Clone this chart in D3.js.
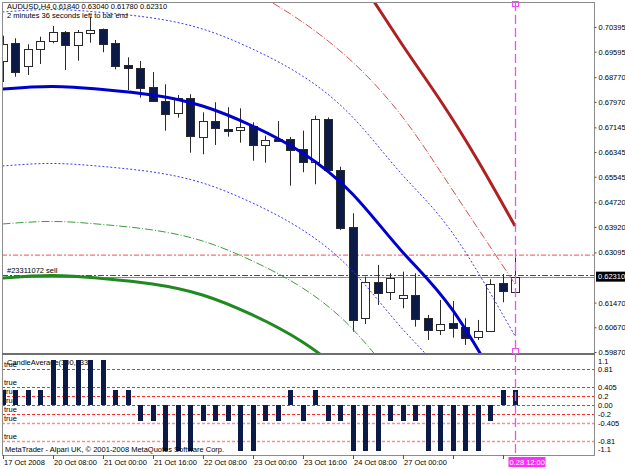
<!DOCTYPE html>
<html>
<head>
<meta charset="utf-8">
<script src="https://cdn.jsdelivr.net/npm/d3@7"></script>
<style>
body { margin: 0; background: #fff; }
text { font-family: "Liberation Sans", Arial, sans-serif; font-size: 7.5px; fill: #000; }
</style>
</head>
<body>
<div id="chart"></div>
<script>
// AUDUSD H4 candles (index 0 = 17 Oct 2008)
const opens  = [0.69271,0.69867,0.69142,0.69673,0.69919,0.70243,0.69812,0.70210,0.70330,0.69887,
                0.69165,0.69077,0.68442,0.67999,0.67620,0.68106,0.66843,0.67361,0.67092,0.67037,
                0.67189,0.66574,0.66768,0.66768,0.66445,0.66033,0.67406,0.65765,0.63929,0.60963,
                0.62148,0.61805,0.61610,0.61717,0.60963,0.60584,0.60820,0.60691,0.60347,0.60551,
                0.62096,0.61840]
const highs  = [0.70113,0.70029,0.69835,0.70081,0.70427,0.70265,0.70298,0.70719,0.70346,0.69974,
                0.69414,0.69294,0.68938,0.68540,0.68193,0.68216,0.67633,0.67957,0.67795,0.67762,
                0.67309,0.66875,0.67351,0.66833,0.67037,0.67523,0.67465,0.65872,0.64363,0.62310,
                0.62689,0.62420,0.62472,0.62420,0.61070,0.61555,0.61523,0.60963,0.60908,0.62226,
                0.62397,0.63040]
const lows   = [0.68614,0.68786,0.68841,0.69197,0.69867,0.69003,0.69304,0.69887,0.69576,0.69025,
                0.68355,0.68106,0.67966,0.67037,0.67458,0.66325,0.66273,0.66574,0.66843,0.66649,
                0.66066,0.66001,0.66688,0.65256,0.65690,0.65302,0.65733,0.63822,0.60529,0.60778,
                0.61393,0.61555,0.61286,0.60691,0.60260,0.60422,0.60335,0.60098,0.60260,0.60529,
                0.61481,0.61780]
const closes = [0.69835,0.68928,0.69683,0.69942,0.70223,0.69835,0.70223,0.70308,0.69835,0.69132,
                0.69077,0.68430,0.67989,0.67578,0.68106,0.66875,0.67351,0.67134,0.67027,0.67147,
                0.66574,0.66736,0.66704,0.66412,0.66033,0.67416,0.65765,0.63877,0.60908,0.62128,
                0.61805,0.62258,0.61717,0.60940,0.60584,0.60778,0.60658,0.60347,0.60551,0.62073,
                0.61847,0.62310]

// CandleAverage histogram
const avgValues = [0.34,0.34,0.34,0.34,1,1,1,1,1,0.34,
                   0.34,-0.36,-0.36,-1.04,-1.04,-1.04,-0.36,-0.36,-0.36,-1.04,
                   -1.04,-0.36,-0.36,0.34,-0.36,0.34,-0.36,-0.36,-1.04,-1.04,
                   -1.04,-0.36,-0.36,-0.36,-1.04,-1.04,-1.04,-1.04,-1.04,-0.36,
                   0.34,0.34]

// regression channel lines, each sampled at its own bar indexes
const curveIdx    = [0, 4, 8, 12, 16, 20, 24, 28, 32, 36, 41]
const regMid      = [0.68387,0.68468,0.68371,0.68193,0.67837,0.67189,0.66315,0.64988,0.63109,0.61231,0.57896]
const regUpper1   = [0.70880,0.70961,0.70864,0.70686,0.70330,0.69682,0.68808,0.67481,0.65602,0.63724,0.60389]
const regLower1   = [0.65894,0.65975,0.65878,0.65700,0.65344,0.64696,0.63822,0.62495,0.60616,0.58738,0.55403]
const regLower2   = [0.64016,0.64097,0.64000,0.63822,0.63466,0.62818,0.61944,0.60617,0.58738,0.56860,0.53525]
const regLower3   = [0.62267,0.62348,0.62251,0.62073,0.61717,0.61069,0.60195,0.58868,0.56989,0.55111,0.51776]
const upper2Idx   = [16, 20, 24, 28, 32, 36, 41]
const regUpper2   = [0.72241,0.71528,0.70557,0.69262,0.67481,0.65117,0.62073]
const upper3Idx   = [26, 29, 32, 35, 38, 41]
const regUpper3   = [0.73374,0.71658,0.69812,0.68031,0.66088,0.63951]

const priceTicks = [0.70395,0.69595,0.68770,0.67970,0.67145,0.66345,0.65545,0.64720,0.63920,0.63095,0.61470,0.60670,0.59870]
const subLevels  = [0.81, 0.405, 0.2, 0, -0.2, -0.405, -0.81]
const subTicks   = [1.1, 0.81, 0.405, 0.2, 0, -0.2, -0.405, -0.81, -1.1]
const subTickLabels = ["1.1","0.81","0.405","0.2","0.00","-0.2","-0.405","-0.81","-1.1"]
const timeIdx    = [0, 4, 8, 12, 16, 20, 24, 28, 32, 36, 40]
const timeLabels = ["17 Oct 2008","20 Oct 08:00","21 Oct 00:00","21 Oct 16:00","22 Oct 08:00",
                    "23 Oct 00:00","23 Oct 16:00","24 Oct 08:00","27 Oct 00:00","",""]

const bidPrice = 0.62310
const orderPrice = 0.62335
const stopPrice = 0.63010

const W = 625, H = 469
const MAIN = { LEFT: 2, RIGHT: 594, TOP: 2, BOTTOM: 353 }
const SUB = { TOP: 356, BOTTOM: 455 }

const svg = d3.select("#chart").append("svg")
    .attr("width", W)
    .attr("height", H)

const x = d3.scaleLinear().domain([0, 41]).range([2.5, 515])
const y = d3.scaleLinear().domain([0.59870, 0.70395]).range([352, 27])
const y2 = d3.scaleLinear().domain([-1.1, 1.1]).range([454, 356])

const defs = svg.append("defs")
defs.append("clipPath").attr("id", "clipMain").append("rect")
    .attr("x", MAIN.LEFT + 1).attr("y", MAIN.TOP + 1)
    .attr("width", MAIN.RIGHT - MAIN.LEFT - 1).attr("height", MAIN.BOTTOM - MAIN.TOP - 1)
defs.append("clipPath").attr("id", "clipSub").append("rect")
    .attr("x", MAIN.LEFT + 1).attr("y", SUB.TOP)
    .attr("width", MAIN.RIGHT - MAIN.LEFT - 1).attr("height", SUB.BOTTOM - SUB.TOP)

const main = svg.append("g").attr("clip-path", "url(#clipMain)")
const sub = svg.append("g").attr("clip-path", "url(#clipSub)")

// horizontal order lines
main.append("line")
    .attr("x1", MAIN.LEFT).attr("x2", MAIN.RIGHT)
    .attr("y1", y(stopPrice)).attr("y2", y(stopPrice))
    .attr("stroke", "#ff7070").attr("stroke-width", 1.2)
    .attr("stroke-dasharray", "5,2,2,2")
main.append("line")
    .attr("x1", MAIN.LEFT).attr("x2", MAIN.RIGHT)
    .attr("y1", Math.round(y(bidPrice)) + 0.5).attr("y2", Math.round(y(bidPrice)) + 0.5)
    .attr("stroke", "#8a8a8a").attr("stroke-width", 1)
main.append("line")
    .attr("x1", MAIN.LEFT).attr("x2", MAIN.RIGHT)
    .attr("y1", Math.round(y(orderPrice)) - 0.5).attr("y2", Math.round(y(orderPrice)) - 0.5)
    .attr("stroke", "#1f6f1f").attr("stroke-width", 1.2)
    .attr("stroke-dasharray", "6,2,2,2")

// candles
const bars = d3.range(opens.length).map(i => ({
    i, o: opens[i], h: highs[i], l: lows[i], c: closes[i]
}))
const cx = d => Math.round(x(d.i))

main.selectAll(".wick")
    .data(bars)
    .enter().append("line")
    .attr("x1", d => cx(d) + 0.5).attr("x2", d => cx(d) + 0.5)
    .attr("y1", d => y(d.h)).attr("y2", d => y(d.l))
    .attr("stroke", "#2a2a2a").attr("stroke-width", 1)

main.selectAll(".body")
    .data(bars)
    .enter().append("rect")
    .attr("x", d => cx(d) - 3.5)
    .attr("width", 8)
    .attr("y", d => Math.round(y(Math.max(d.o, d.c))) + 0.5)
    .attr("height", d => Math.max(1, Math.round(Math.abs(y(d.o) - y(d.c)))))
    .attr("fill", d => d.c >= d.o ? "#ffffff" : "#0b1a46")
    .attr("stroke", "#2a2a2a").attr("stroke-width", 1)

// regression channel lines
const lineFor = idx => d3.line()
    .x((d, k) => x(idx[k]))
    .y(d => y(d))
    .curve(d3.curveNatural)

const channel = [
    { idx: curveIdx,  values: regUpper1, color: "#3a3af0", width: 1, dash: "2,2" },
    { idx: curveIdx,  values: regLower1, color: "#3a3af0", width: 1, dash: "2,2" },
    { idx: upper2Idx, values: regUpper2, color: "#d85050", width: 1, dash: "8,2,1,2" },
    { idx: curveIdx,  values: regLower2, color: "#3c9c3c", width: 1, dash: "8,2,1,2" },
    { idx: upper3Idx, values: regUpper3, color: "#b02020", width: 3, dash: null },
    { idx: curveIdx,  values: regLower3, color: "#208a20", width: 3, dash: null },
    { idx: curveIdx,  values: regMid,    color: "#0000cc", width: 3, dash: null }
]
channel.forEach(ch => {
    main.append("path")
        .attr("d", lineFor(ch.idx)(ch.values))
        .attr("fill", "none")
        .attr("stroke", ch.color)
        .attr("stroke-width", ch.width)
        .attr("stroke-dasharray", ch.dash)
})

// sub window: levels, labels, histogram
sub.selectAll(".level")
    .data(subLevels)
    .enter().append("line")
    .attr("x1", MAIN.LEFT).attr("x2", MAIN.RIGHT)
    .attr("y1", d => Math.round(y2(d)) + 0.5).attr("y2", d => Math.round(y2(d)) + 0.5)
    .attr("stroke", d => d <= -0.405 ? "#ff8a8a" : "#ff2a2a")
    .attr("stroke-width", d => d <= -0.405 ? 1.6 : 1)
    .attr("stroke-dasharray", "3,2")

sub.selectAll(".lvlText")
    .data(subLevels)
    .enter().append("text")
    .attr("x", 4)
    .attr("y", d => y2(d) - 2)
    .text("true")

sub.append("text")
    .attr("x", 7).attr("y", 365)
    .text("CandleAverage(300,133)")

sub.selectAll(".avg")
    .data(avgValues)
    .enter().append("rect")
    .attr("x", (d, i) => Math.round(x(i)) - 2)
    .attr("width", 5)
    .attr("y", d => Math.round(y2(Math.max(0, d))))
    .attr("height", d => Math.round(Math.abs(y2(d) - y2(0))))
    .attr("fill", "#0b1a46")

sub.append("text")
    .attr("x", 5).attr("y", 452)
    .text("MetaTrader - Alpari UK, \u00a9 2001-2008 MetaQuotes Software Corp.")

// frame
const frame = svg.append("g").attr("stroke", "#8c8c8c").attr("fill", "none")
frame.append("rect")
    .attr("x", MAIN.LEFT + 0.5).attr("y", MAIN.TOP + 0.5)
    .attr("width", MAIN.RIGHT - MAIN.LEFT).attr("height", SUB.BOTTOM - MAIN.TOP)
frame.append("line")
    .attr("x1", MAIN.LEFT).attr("x2", MAIN.RIGHT + 1)
    .attr("y1", MAIN.BOTTOM + 1).attr("y2", MAIN.BOTTOM + 1)
    .attr("stroke", "#6e6e6e").attr("stroke-width", 2)

// price axis
const yAxis = d3.axisRight(y)
    .tickValues(priceTicks)
    .tickFormat(d3.format(".5f"))
    .tickSize(2)
    .tickPadding(2)
const yAxisG = svg.append("g")
    .attr("transform", `translate(${MAIN.RIGHT + 0.5}, 0)`)
    .call(yAxis)
yAxisG.select(".domain").remove()
yAxisG.selectAll("text").attr("font-size", null).attr("font-family", null)
yAxisG.selectAll("line").attr("stroke", "#555")

// sub axis labels
svg.selectAll(".subTick")
    .data(subTicks)
    .enter().append("text")
    .attr("x", MAIN.RIGHT + 4)
    .attr("y", d => Math.min(449, Math.max(361, y2(d))))
    .attr("dy", "0.35em")
    .text((d, k) => subTickLabels[k])

// bid label
svg.append("rect")
    .attr("x", MAIN.RIGHT + 2).attr("y", y(bidPrice) - 5)
    .attr("width", 30).attr("height", 10)
    .attr("fill", "#000")
svg.append("text")
    .attr("x", MAIN.RIGHT + 4).attr("y", y(bidPrice))
    .attr("dy", "0.35em")
    .style("fill", "#fff")
    .text(d3.format(".5f")(bidPrice))

// time axis
svg.selectAll(".tTick")
    .data(timeIdx)
    .enter().append("line")
    .attr("x1", d => Math.round(x(d)) + 0.5).attr("x2", d => Math.round(x(d)) + 0.5)
    .attr("y1", SUB.BOTTOM).attr("y2", SUB.BOTTOM + 4)
    .attr("stroke", "#555")
svg.selectAll(".tLabel")
    .data(timeIdx)
    .enter().append("text")
    .attr("x", d => Math.round(x(d)) + 1)
    .attr("y", 465)
    .text((d, k) => timeLabels[k])

// current bar marker
const xNow = Math.round(x(41)) + 0.5
svg.append("line")
    .attr("x1", xNow).attr("x2", xNow)
    .attr("y1", MAIN.TOP).attr("y2", 457)
    .attr("stroke", "#f050f0").attr("stroke-width", 1.3)
    .attr("stroke-dasharray", "9,4")
svg.selectAll(".mark")
    .data([MAIN.TOP + 2, MAIN.BOTTOM - 2])
    .enter().append("rect")
    .attr("x", xNow - 3).attr("y", d => d - 2.5)
    .attr("width", 6).attr("height", 5)
    .attr("fill", "none").attr("stroke", "#f050f0")
svg.append("rect")
    .attr("x", xNow - 7).attr("y", 457)
    .attr("width", 37).attr("height", 10)
    .attr("fill", "#ff2cff")
svg.append("text")
    .attr("x", xNow - 6).attr("y", 465)
    .style("fill", "#fff")
    .text("0.28 12:00")

// header
svg.append("text").attr("x", 7).attr("y", 9)
    .text("AUDUSD,H4  0.61840 0.63040 0.61780 0.62310")
svg.append("text").attr("x", 7).attr("y", 18)
    .text("2 minutes 36 seconds left to bar end")
svg.append("text").attr("x", 7).attr("y", 273)
    .text("#23311072 sell")
</script>
</body>
</html>
